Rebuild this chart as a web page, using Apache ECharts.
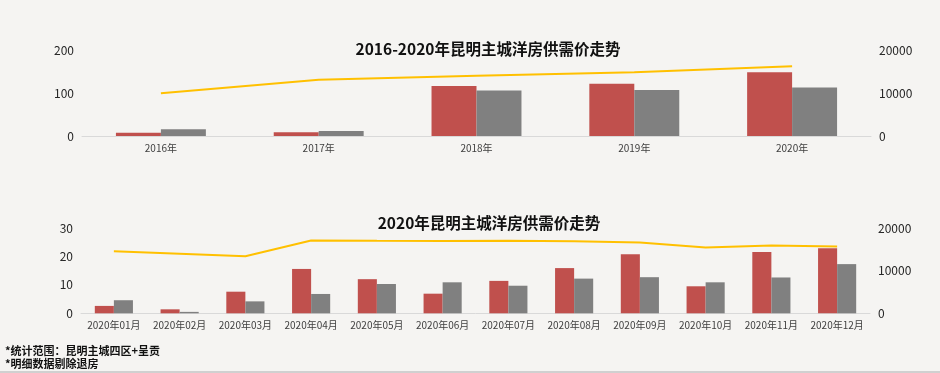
<!DOCTYPE html>
<html><head><meta charset="utf-8">
<script src="https://cdn.jsdelivr.net/npm/echarts@6/dist/echarts.min.js"></script>
<style>html,body{margin:0;padding:0;background:#F5F4F2;}#c{width:940px;height:373px;}</style>
</head><body><div id="c"></div>
<script>
const yearCats = ['2016年','2017年','2018年','2019年','2020年'];
const yearSupply = [7.7, 9, 116, 121.5, 148];
const yearDeal = [15.6, 11.6, 106, 107, 113];
const yearPrice = [9930, 13100, 14000, 14800, 16200];

const monthCats = ['2020年01月','2020年02月','2020年03月','2020年04月','2020年05月','2020年06月','2020年07月','2020年08月','2020年09月','2020年10月','2020年11月','2020年12月'];
const monthSupply = [2.6, 1.4, 7.6, 15.6, 12.0, 6.9, 11.4, 15.9, 20.8, 9.5, 21.6, 22.9];
const monthDeal = [4.6, 0.5, 4.2, 6.8, 10.3, 10.9, 9.7, 12.2, 12.7, 10.9, 12.6, 17.3];
const monthPrice = [14560, 13970, 13390, 17060, 17000, 16950, 17000, 16900, 16590, 15420, 15890, 15650];

const titleTop = '2016-2020年昆明主城洋房供需价走势';
const titleBottom = '2020年昆明主城洋房供需价走势';
const notes = ['*统计范围：昆明主城四区+呈贡', '*明细数据剔除退房'];

const FONT = '"Noto Sans CJK SC", "Noto Sans", sans-serif';
const RED = '#C0504D', GREY = '#808080', GOLD = '#FFC000';

const chart = echarts.init(document.getElementById('c'));
function valAxis(gi, max, interval, pos){
  return {type:'value', gridIndex:gi, min:0, max:max, interval:interval, position:pos,
    axisLine:{show:false}, axisTick:{show:false}, splitLine:{show:false},
    axisLabel:{color:'#262626', fontSize:12, fontFamily:FONT, margin:8, formatter:function(v){return String(v);}}};
}
function catAxis(gi, data){
  return {type:'category', gridIndex:gi, data:data,
    axisLine:{lineStyle:{color:'#D9D9D9', width:1}}, axisTick:{show:false},
    axisLabel:{color:'#404040', fontSize:10, fontFamily:FONT, margin:7, interval:0}};
}
chart.setOption({
  backgroundColor:'#F5F4F2',
  animation:false,
  textStyle:{fontFamily:FONT},
  title:[
    {text:titleTop, left:483, top:36, textAlign:'center', textStyle:{fontSize:15.5, fontWeight:'bold', color:'#111', fontFamily:FONT}},
    {text:titleBottom, left:484, top:210, textAlign:'center', textStyle:{fontSize:15.5, fontWeight:'bold', color:'#111', fontFamily:FONT}}
  ],
  grid:[
    {left:82, right:69, top:50, height:86},
    {left:81, right:70, top:228, height:85.3}
  ],
  xAxis:[catAxis(0, yearCats), catAxis(1, monthCats)],
  yAxis:[
    valAxis(0, 200, 100, 'left'), valAxis(0, 20000, 10000, 'right'),
    valAxis(1, 30, 10, 'left'), valAxis(1, 20000, 10000, 'right')
  ],
  series:[
    {type:'bar', xAxisIndex:0, yAxisIndex:0, data:yearSupply, itemStyle:{color:RED}, barGap:'0%', barCategoryGap:'43%'},
    {type:'bar', xAxisIndex:0, yAxisIndex:0, data:yearDeal, itemStyle:{color:GREY}, barGap:'0%', barCategoryGap:'43%'},
    {type:'line', xAxisIndex:0, yAxisIndex:1, data:yearPrice, showSymbol:false, lineStyle:{color:GOLD, width:2}, itemStyle:{color:GOLD}},
    {type:'bar', xAxisIndex:1, yAxisIndex:2, data:monthSupply, itemStyle:{color:RED}, barGap:'0%', barCategoryGap:'42%'},
    {type:'bar', xAxisIndex:1, yAxisIndex:2, data:monthDeal, itemStyle:{color:GREY}, barGap:'0%', barCategoryGap:'42%'},
    {type:'line', xAxisIndex:1, yAxisIndex:3, data:monthPrice, showSymbol:false, lineStyle:{color:GOLD, width:2}, itemStyle:{color:GOLD}}
  ],
  graphic:[
    {type:'text', left:5, top:345, style:{text:notes[0], fill:'#111', font:'bold 11px '+FONT}},
    {type:'text', left:5, top:358, style:{text:notes[1], fill:'#111', font:'bold 11px '+FONT}},
    {type:'rect', left:0, top:371, shape:{width:940, height:2}, style:{fill:'#D0D0D0'}}
  ]
});
</script></body></html>
